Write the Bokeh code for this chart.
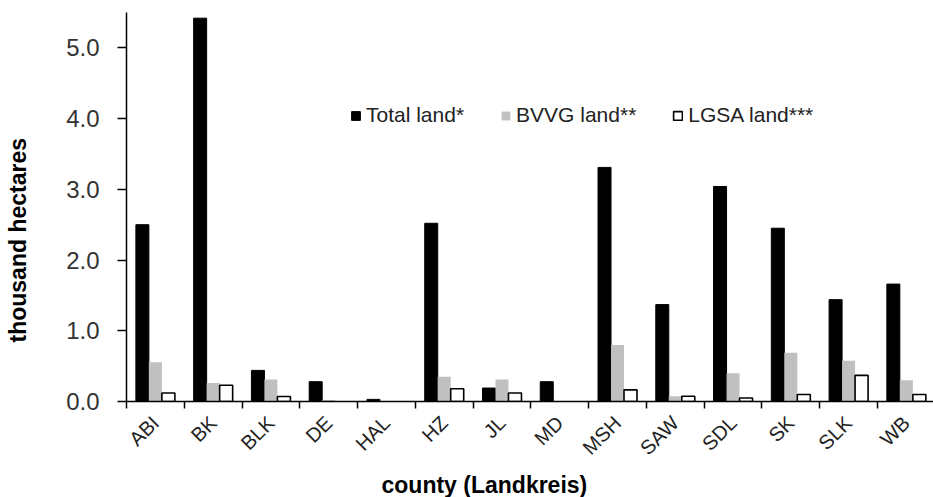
import math
import numpy as np
from bokeh.plotting import figure
from bokeh.models import Range1d, FixedTicker, Legend, LegendItem, Title, ColumnDataSource
from bokeh.embed import file_html
from bokeh.resources import INLINE

# ---- data (thousand hectares) ----
counties = ["ABI", "BK", "BLK", "DE", "HAL", "HZ", "JL", "MD", "MSH", "SAW", "SDL", "SK", "SLK", "WB"]
total_land = [2.50, 5.42, 0.44, 0.28, 0.03, 2.52, 0.19, 0.28, 3.31, 1.37, 3.04, 2.45, 1.44, 1.66]
bvvg_land = [0.555, 0.26, 0.31, 0.02, 0.0, 0.35, 0.31, 0.0, 0.80, 0.075, 0.40, 0.69, 0.575, 0.30]
lgsa_land = [0.12, 0.23, 0.07, 0.0, 0.0, 0.18, 0.12, 0.0, 0.165, 0.075, 0.05, 0.10, 0.37, 0.10]
series_names = ["Total land*", "BVVG land**", "LGSA land***"]
y_ticks = [0.0, 1.0, 2.0, 3.0, 4.0, 5.0]
y_tick_labels = ["0.0", "1.0", "2.0", "3.0", "4.0", "5.0"]

FONT = "Liberation Sans"
W, H = 933, 497

p = figure(width=W, height=H, output_backend="svg", toolbar_location=None,
           x_range=Range1d(0, 13.97), y_range=Range1d(0, 5.5),
           min_border_left=126, min_border_right=0, min_border_top=12, min_border_bottom=95)
p.background_fill_color = "white"
p.border_fill_color = "white"
p.outline_line_color = None
p.xgrid.visible = False
p.ygrid.visible = False

centers = np.arange(len(counties)) + 0.5
bw = 0.225


def src(vals, off):
    xs = [c + off for c, v in zip(centers, vals) if v > 0]
    ts = [v for v in vals if v > 0]
    return ColumnDataSource(dict(x=xs, top=ts))


r1 = p.vbar(x="x", top="top", width=bw, source=src(total_land, -bw),
            fill_color="black", line_color="black", line_width=1)
r2 = p.vbar(x="x", top="top", width=bw, source=src(bvvg_land, 0.0),
            fill_color="#c0c0c0", line_color=None)
r3 = p.vbar(x="x", top="top", width=bw, source=src(lgsa_land, bw),
            fill_color="white", line_color="black", line_width=1.6)

legend = Legend(items=[LegendItem(label=series_names[0], renderers=[r1]),
                       LegendItem(label=series_names[1], renderers=[r2]),
                       LegendItem(label=series_names[2], renderers=[r3])],
                orientation="horizontal", location=(224, 274),
                glyph_width=11, glyph_height=11, label_standoff=5, spacing=36,
                padding=0, margin=0, border_line_color=None, background_fill_alpha=0,
                label_text_font=FONT, label_text_font_size="21px", label_text_color="#222222")
p.add_layout(legend, "center")

# x axis: ticks between categories, labels at centres
xa = p.xaxis[0]
xa.ticker = FixedTicker(ticks=list(centers), minor_ticks=list(range(len(counties) + 1)))
xa.major_label_overrides = {float(c): n for c, n in zip(centers, counties)}
xa.major_tick_in = 0
xa.major_tick_out = 0
xa.minor_tick_in = 0
xa.minor_tick_out = 7
xa.minor_tick_line_color = "black"
xa.minor_tick_line_width = 1.5
xa.axis_line_color = "black"
xa.axis_line_width = 1.5
xa.major_label_orientation = math.pi / 4
xa.major_label_standoff = 11
xa.major_label_text_font = FONT
xa.major_label_text_font_size = "20px"
xa.major_label_text_color = "#222222"

ya = p.yaxis[0]
ya.ticker = FixedTicker(ticks=y_ticks)
ya.major_label_overrides = {t: l for t, l in zip(y_ticks, y_tick_labels)}
ya.major_tick_in = 0
ya.major_tick_out = 9
ya.major_tick_line_color = "black"
ya.major_tick_line_width = 1.5
ya.minor_tick_out = 0
ya.minor_tick_in = 0
ya.axis_line_color = "black"
ya.axis_line_width = 1.5
ya.major_label_standoff = 18
ya.major_label_text_font = FONT
ya.major_label_text_font_size = "24px"
ya.major_label_text_color = "#333333"
# blank spacer label to keep the y title well away from the tick labels
ya.axis_label = " "
ya.axis_label_text_font_size = "10px"
ya.axis_label_standoff = 18

xt = Title(text="county (Landkreis)", align="left", offset=255, text_font=FONT,
           text_font_size="23px", text_font_style="bold", text_color="black", standoff=0)
p.add_layout(xt, "below")
yt = Title(text="thousand hectares", align="left", offset=59, text_font=FONT,
           text_font_size="23px", text_font_style="bold", text_color="black", standoff=0,
           vertical_align="middle")
p.add_layout(yt, "left")

open("out.html", "w").write(file_html(p, INLINE))
